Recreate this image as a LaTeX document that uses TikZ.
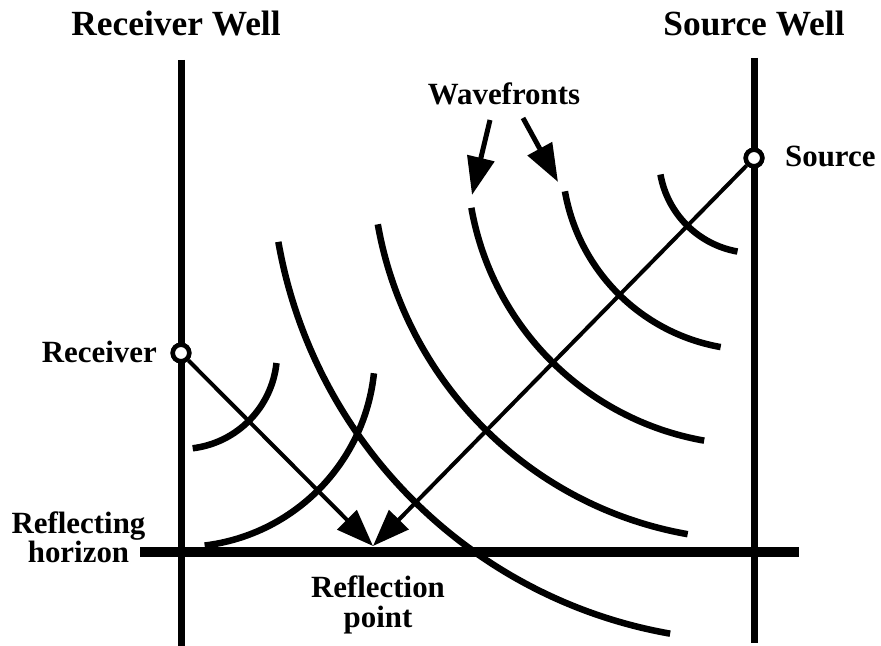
\documentclass[tikz,border=0pt]{standalone}
\usepackage{fontspec}
\setmainfont{Liberation Serif}
\usetikzlibrary{arrows.meta}
\newcommand\ttlfont{\fontsize{35.5}{38}\selectfont\bfseries}
\newcommand\labfont{\fontsize{31}{33}\selectfont\bfseries}
\newcommand\horfont{\fontsize{31}{29}\selectfont\bfseries\lineskiplimit=-30pt\relax}
\newcommand\ptfont{\fontsize{31}{30}\selectfont\bfseries\lineskiplimit=-30pt\relax}
\tikzset{
  well/.style={line width=7bp},
  horizonline/.style={line width=10.5bp},
  front/.style={line width=6.5bp},
  ray/.style={line width=4bp, -{Triangle[length=37bp,width=27bp]}},
  pointer/.style={line width=5bp, -{Triangle[length=38bp,width=27bp]}},
  lab/.style={font=\labfont, inner sep=0pt},
  ttl/.style={font=\ttlfont, inner sep=0pt},
  port/.style={circle, draw, fill=white, line width=4.5bp, minimum size=16.5bp, inner sep=0pt}
}
\begin{document}
\begin{tikzpicture}[x=1bp,y=1bp]
\useasboundingbox (0,0) rectangle (881,646);
\fill[white] (0,0) rectangle (881,646);
% key points
\coordinate (S0) at (754,488);
\coordinate (R0) at (181,293);
\coordinate (P) at (373,100);
% titles
\node[ttl, anchor=base] (tR) at (176,610) {Receiver Well};
\node[ttl, anchor=base] (tS) at (754,610) {Source Well};
% wavefronts around the source
\foreach \r in {95,192,287,382,483}
  \draw[front] (S0) ++(190:\r) arc[start angle=190, end angle=260, radius=\r];
% wavefronts around the receiver
\foreach \r in {96,194}
  \draw[front] (R0) ++(277:\r) arc[start angle=277, end angle=354, radius=\r];
% wells and horizon
\coordinate (LWt) at (181,586);
\coordinate (LWb) at (181,0);
\coordinate (RWt) at (754,588);
\coordinate (RWb) at (754,3);
\draw[well] (LWt) -- (LWb);
\draw[well] (RWt) -- (RWb);
\coordinate (Hl) at (140,94);
\coordinate (Hr) at (799,94);
\draw[horizonline] (Hl) -- (Hr);
% source and receiver
\node[port] (S) at (S0) {};
\node[port] (R) at (R0) {};
\draw[ray] (R) -- (P);
\draw[ray] (S) -- (P);
\node[port] at (S0) {};
\node[port] at (R0) {};
% labels
\node[lab, anchor=base west] (Sl) at (785,479) {Source};
\node[lab, anchor=base east] (Rl) at (157,283) {Receiver};
\node[lab, anchor=base] (W) at (504,541) {Wavefronts};
\coordinate (w1a) at (490,526);
\coordinate (w1b) at (472,451);
\coordinate (w2a) at (523,528);
\coordinate (w2b) at (558,464);
\draw[pointer] (w1a) -- (w1b);
\draw[pointer] (w2a) -- (w2b);
\node[lab, anchor=north, align=center, font=\horfont] (Hlab) at (78.5,134) {Reflecting\\horizon};
\node[lab, anchor=north, align=center, font=\ptfont] (Plab) at (378,70) {Reflection\\point};
\end{tikzpicture}
\end{document}
